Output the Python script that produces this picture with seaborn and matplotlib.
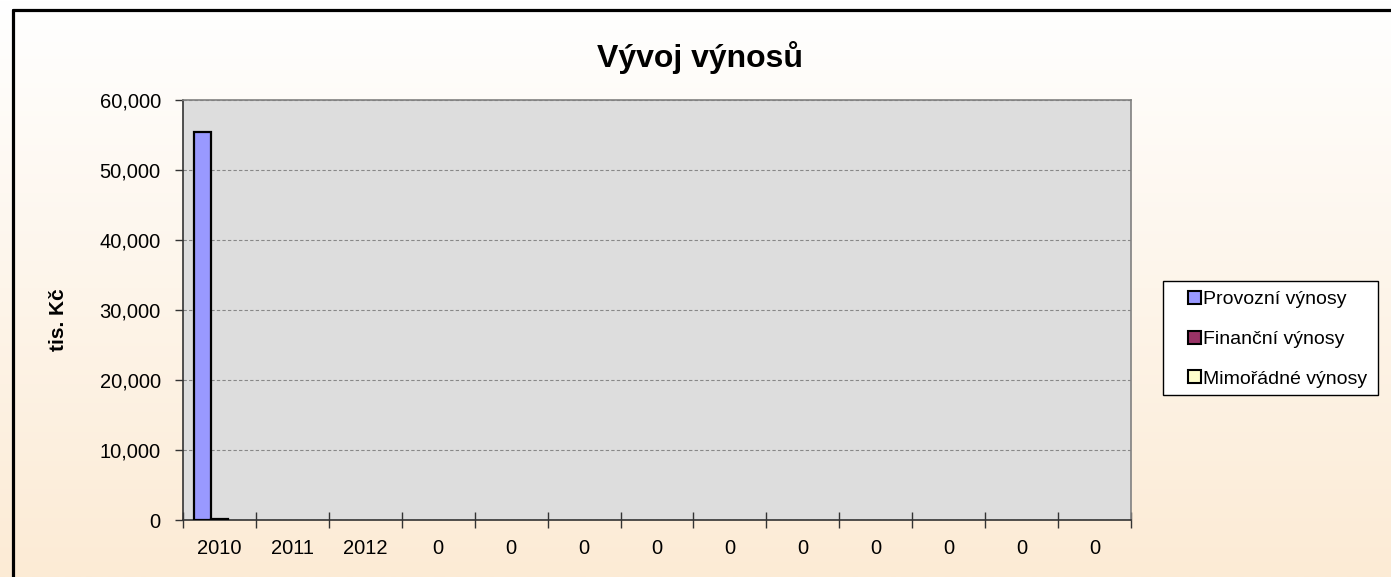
import numpy as np
import pandas as pd
import matplotlib
matplotlib.use("Agg")
import matplotlib.pyplot as plt
import seaborn as sns
from matplotlib.ticker import FuncFormatter, FixedLocator
from matplotlib.lines import Line2D
from matplotlib.patches import Patch, Rectangle

# ---- data ----
categories = ["2010", "2011", "2012", "0", "0", "0", "0", "0", "0", "0", "0", "0", "0"]
series_names = ["Provozní výnosy", "Finanční výnosy", "Mimořádné výnosy"]
provozni = [55500, 0, 0, 0, 0, 0, 0, 0, 0, 0, 0, 0, 0]
financni = [150, 0, 0, 0, 0, 0, 0, 0, 0, 0, 0, 0, 0]
mimoradne = [0, 0, 0, 0, 0, 0, 0, 0, 0, 0, 0, 0, 0]
yticks = [0, 10000, 20000, 30000, 40000, 50000, 60000]
title = "Vývoj výnosů"
ylabel = "tis. Kč"

colors = ["#9999FF", "#993366", "#FFFFCC"]

keys = [f"c{i}" for i in range(len(categories))]
rows = []
for name, vals in zip(series_names, [provozni, financni, mimoradne]):
    for k, v in zip(keys, vals):
        rows.append({"cat": k, "series": name, "value": v})
df = pd.DataFrame(rows)

sns.set_theme(style="white")
plt.rcParams["font.family"] = ["Liberation Sans", "DejaVu Sans"]
plt.rcParams["text.color"] = "black"
plt.rcParams["axes.labelcolor"] = "black"
plt.rcParams["xtick.color"] = "black"
plt.rcParams["ytick.color"] = "black"

W, H = 1391, 577
fig = plt.figure(figsize=(W / 100, H / 100), dpi=100)

# gradient background
bg = fig.add_axes([0, 0, 1, 1], zorder=-10)
grad = np.linspace(0, 1, 256)[:, None]
top = np.array([1.0, 1.0, 1.0])
bot = np.array([252, 235, 213]) / 255
img = top[None, None, :] * (1 - grad[:, :, None]) + bot[None, None, :] * grad[:, :, None]
bg.imshow(img, aspect="auto", extent=[0, 1, 0, 1], origin="upper")
bg.set_xlim(0, 1)
bg.set_ylim(0, 1)
bg.axis("off")
# figure border (left and top)
bx, by = 13 / W, 1 - 10 / H
bg.add_line(Line2D([bx, bx], [0, by], color="black", lw=2.3))
bg.add_line(Line2D([bx, 1], [by, by], color="black", lw=2.3))
# legend frame
bg.add_patch(Rectangle((1163 / W, 1 - 395 / H), (1378 - 1163) / W, (395 - 281) / H,
                       facecolor="white", edgecolor="black", linewidth=1.0, zorder=2))

ax = fig.add_axes([183 / W, 1 - 520 / H, (1131 - 183) / W, (520 - 100) / H])
ax.set_facecolor("#DDDDDD")

sns.barplot(data=df, x="cat", y="value", hue="series", order=keys,
            hue_order=series_names, palette=colors, width=0.7,
            edgecolor="black", linewidth=1.6, saturation=1, ax=ax, legend=False,
            zorder=3)
for p in ax.patches:
    if p.get_height() == 0:
        p.set_linewidth(0)

ax.set_xlim(-0.5, len(categories) - 0.5)
ax.set_ylim(0, 60000)
ax.set_yticks(yticks)
ax.yaxis.set_major_formatter(FuncFormatter(lambda v, p: f"{int(v):,}"))
ax.set_xticks(range(len(categories)))
ax.set_xticklabels(categories)
ax.xaxis.set_minor_locator(FixedLocator(np.arange(-0.5, len(categories), 1.0)))
ax.tick_params(axis="x", which="major", length=0, pad=13.5, labelsize=14.5)
ax.tick_params(axis="x", which="minor", length=12, direction="inout", width=1, color="#333333", bottom=True)
ax.tick_params(axis="y", which="major", length=6, direction="out", width=1, color="#333333", labelsize=14.5, pad=10, left=True)
ax.set_xlabel("")
ax.set_ylabel(ylabel, fontsize=15, fontweight="bold")
ax.yaxis.set_label_coords((68 - 183) / 948, (520 - 320) / 420)
ax.yaxis.grid(True, linestyle=(0, (3, 2)), color="#888888", linewidth=0.8, zorder=1)
ax.set_axisbelow(True)
for s in ["left", "bottom"]:
    ax.spines[s].set_color("#333333")
    ax.spines[s].set_linewidth(1.2)
for s in ["top", "right"]:
    ax.spines[s].set_color("#808080")
    ax.spines[s].set_linewidth(1.2)

fig.text(700 / W, 1 - 58 / H, title, ha="center", va="center", fontsize=23, fontweight="bold")

handles = [Patch(facecolor=c, edgecolor="black", linewidth=1.5) for c in colors]
leg = fig.legend(handles, series_names, loc="upper left",
                 bbox_to_anchor=(1184 / W, 1 - 287 / H), frameon=False,
                 fontsize=14, handlelength=0.65, handleheight=0.65, handletextpad=0.15,
                 labelspacing=1.15, borderpad=0.2, borderaxespad=0)

fig.savefig("out.png", dpi=100)
